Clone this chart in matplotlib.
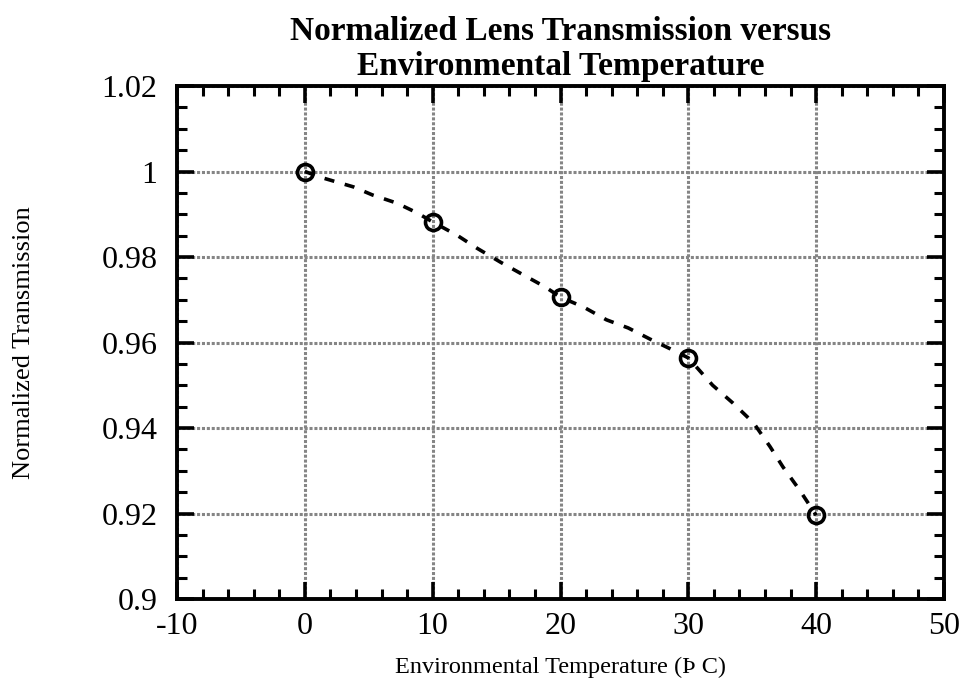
import matplotlib

matplotlib.use("Agg")

import matplotlib.pyplot as plt
from matplotlib.ticker import MultipleLocator

# measured points
temps = [0, 10, 20, 30, 40]
transmission = [1.0, 0.9882, 0.9706, 0.9564, 0.9196]

# dashed fit curve
curve_t = [0, 1.4, 3.8, 5.3, 7.2, 8.8, 10, 11.9, 13.5, 15.3, 16.8, 18.8, 20,
           21.8, 23.6, 25.3, 27.0, 28.6, 30, 31.9, 33.5, 35.1, 36.4, 37.4,
           38.7, 40]
curve_tr = [1.0, 0.9985, 0.9964, 0.9945, 0.9926, 0.9903, 0.9882, 0.9851,
            0.982, 0.9788, 0.9763, 0.973, 0.9706, 0.9683, 0.9653, 0.9634,
            0.9608, 0.9585, 0.9564, 0.950, 0.9458, 0.9412, 0.9356, 0.9309,
            0.9255, 0.9196]

x_ticks = [-10, 0, 10, 20, 30, 40, 50]
y_ticks = [0.9, 0.92, 0.94, 0.96, 0.98, 1.0, 1.02]
y_tick_labels = ["0.9", "0.92", "0.94", "0.96", "0.98", "1", "1.02"]

plt.rcParams["font.family"] = ["Liberation Serif", "DejaVu Serif"]

fig = plt.figure(figsize=(9.64, 6.88), dpi=100)
ax = fig.add_axes([177 / 964, 89 / 688, 767 / 964, 513 / 688])

ax.plot(curve_t, curve_tr, color="black", linewidth=2.6,
        linestyle=(0, (2.8, 3.0)), zorder=3)
ax.plot(temps, transmission, linestyle="none", marker="o", markersize=11.5,
        markerfacecolor="none", markeredgecolor="black", markeredgewidth=2.6,
        zorder=4)

ax.set_xlim(-10, 50)
ax.set_ylim(0.9, 1.02)
ax.set_xticks(x_ticks)
ax.set_xticklabels([str(t) for t in x_ticks])
ax.set_yticks(y_ticks)
ax.set_yticklabels(y_tick_labels)
ax.xaxis.set_minor_locator(MultipleLocator(2))
ax.yaxis.set_minor_locator(MultipleLocator(0.005))

ax.tick_params(which="both", direction="in", top=True, right=True,
               labelsize=23, color="black")
ax.tick_params(which="major", length=12, width=2.6)
ax.tick_params(axis="y", which="major", pad=14)
ax.tick_params(axis="x", which="major", pad=9)
ax.tick_params(which="minor", length=7, width=2.2)

ax.grid(True, which="major", color="#858585", linestyle=(0, (1, 0.6)),
        linewidth=2.2, zorder=1)
for spine in ax.spines.values():
    spine.set_linewidth(2.8)

ax.set_title("Normalized Lens Transmission versus\nEnvironmental Temperature",
             fontsize=24, fontweight="bold", pad=8, linespacing=1.15)
ax.set_xlabel("Environmental Temperature (Þ C)", fontsize=17.5, labelpad=12)
ax.set_ylabel("Normalized Transmission", fontsize=19, labelpad=48)

fig.savefig("out.png", dpi=100)
